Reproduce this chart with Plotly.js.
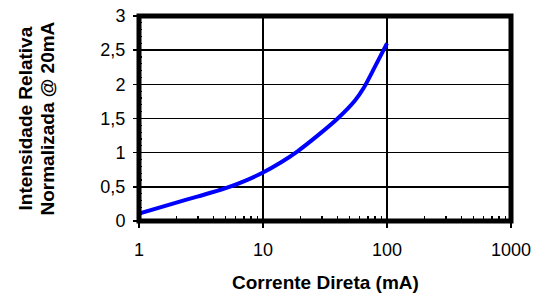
<!DOCTYPE html>
<html>
<head>
<meta charset="utf-8">
<script src="https://cdn.plot.ly/plotly-3.0.1.min.js"></script>
<style>
html,body{margin:0;padding:0;background:#fff;}
#chart{width:543px;height:296px;}
</style>
</head>
<body>
<div id="chart"></div>
<script>
const current = [1, 2, 3, 5, 7, 10, 14, 19, 28, 40, 55, 65, 80, 100];
const intensity = [0.11, 0.27, 0.36, 0.48, 0.58, 0.71, 0.86, 1.02, 1.26, 1.50, 1.76, 1.95, 2.26, 2.60];
const xTickVals = [1, 10, 100, 1000];
const xTickText = ['1', '10', '100', '1000'];
const yTickVals = [0, 0.5, 1, 1.5, 2, 2.5, 3];
const xTitle = 'Corrente Direta (mA)';
const yTitleLines = ['Intensidade Relativa', 'Normalizada @ 20mA'];

const font = 'Liberation Sans, Arial, sans-serif';
const titleFont = {family: font, size: 19, color: '#000', weight: 'bold'};

const trace = {
  x: current, y: intensity, type: 'scatter', mode: 'lines',
  line: {color: '#0000ff', width: 4, shape: 'spline', smoothing: 0.8},
  hoverinfo: 'skip'
};

const layout = {
  width: 543, height: 296,
  margin: {l: 139, r: 32, t: 16, b: 75},
  paper_bgcolor: '#fff', plot_bgcolor: '#fff',
  separators: ', ',
  showlegend: false,
  font: {family: font, size: 18, color: '#000'},
  xaxis: {
    type: 'log', range: [0, 3],
    tickvals: xTickVals, ticktext: xTickText,
    ticks: 'outside', ticklen: 6, tickwidth: 1.5, tickcolor: '#000',
    ticklabelstandoff: 6,
    showgrid: true, gridcolor: '#000', gridwidth: 1.5,
    zeroline: false, showline: false,
    minor: {ticks: 'inside', ticklen: 5, tickwidth: 1.5, tickcolor: '#000', dtick: 'D1', showgrid: false},
    tickfont: {family: font, size: 18, color: '#000'}
  },
  yaxis: {
    range: [0, 3],
    tickvals: yTickVals,
    ticks: 'outside', ticklen: 5, tickwidth: 1.5, tickcolor: '#000',
    ticklabelstandoff: 4,
    showgrid: true, gridcolor: '#000', gridwidth: 1.5,
    zeroline: false, showline: false,
    minor: {ticks: 'inside', ticklen: 3, tickwidth: 1.2, tickcolor: '#000', dtick: 0.1, showgrid: false},
    tickfont: {family: font, size: 18, color: '#000'}
  },
  annotations: [
    {text: xTitle, xref: 'paper', yref: 'paper', x: 0.5, y: 0, xanchor: 'center', yanchor: 'middle',
     yshift: -61, showarrow: false, font: titleFont},
    {text: yTitleLines[0], xref: 'paper', yref: 'paper', x: 0, y: 0.5, xanchor: 'center', yanchor: 'middle',
     xshift: -114, textangle: -90, showarrow: false, font: titleFont},
    {text: yTitleLines[1], xref: 'paper', yref: 'paper', x: 0, y: 0.5, xanchor: 'center', yanchor: 'middle',
     xshift: -92, textangle: -90, showarrow: false, font: titleFont}
  ],
  shapes: [{
    type: 'rect', xref: 'paper', yref: 'paper', x0: 0, x1: 1, y0: 0, y1: 1,
    line: {color: '#000', width: 5}, fillcolor: 'rgba(0,0,0,0)', layer: 'above'
  }]
};

Plotly.newPlot('chart', [trace], layout, {displayModeBar: false, staticPlot: true});
</script>
</body>
</html>
